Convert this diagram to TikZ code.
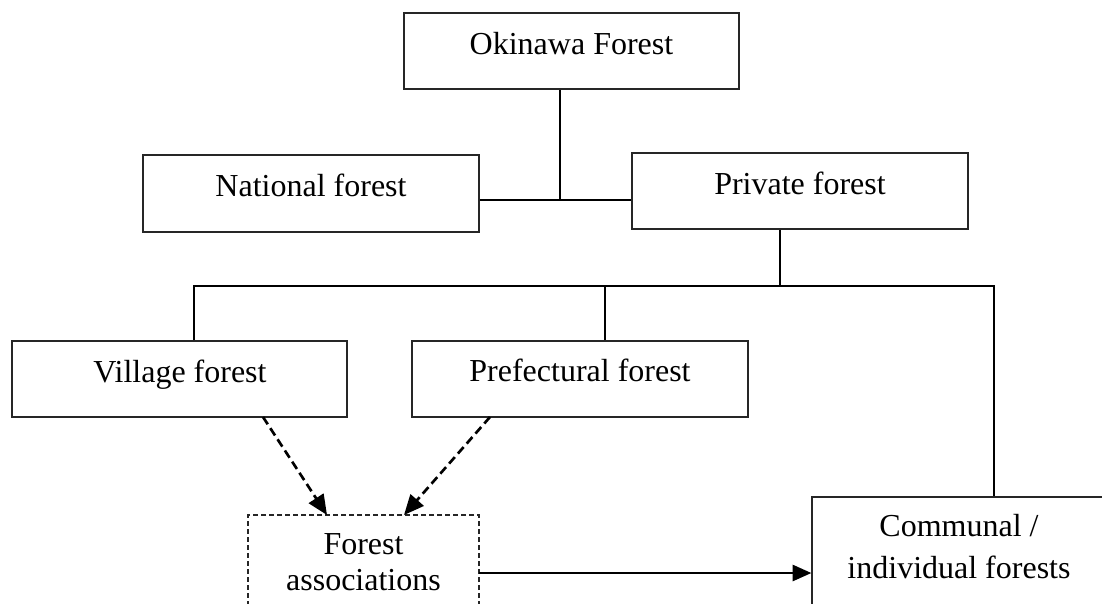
\documentclass[tikz,border=0pt]{standalone}
\usepackage{fontspec}
\setmainfont{Liberation Serif}
\usetikzlibrary{arrows.meta}
\begin{document}
\begin{tikzpicture}[x=0.75pt,y=-0.75pt,
  box/.style={draw=black!85,line width=0.9pt,rectangle,inner sep=0pt},
  dbox/.style={draw=black!85,line width=0.8pt,rectangle,inner sep=0pt,dash pattern=on 3.5pt off 2.5pt},
  txt/.style={font=\fontsize{24pt}{27pt}\selectfont,inner sep=0pt,anchor=base,align=center},
  conn/.style={draw=black,line width=1.2pt},
  darr/.style={draw=black,line width=2pt,dash pattern=on 6.5pt off 3.5pt,-{Triangle[length=15pt,width=13pt]}},
  sarr/.style={draw=black,line width=1.8pt,-{Triangle[length=14pt,width=12pt]}}]
\useasboundingbox (0,0) rectangle (1102,603);
\clip (0,0) rectangle (1102,603);
\fill[white] (0,0) rectangle (1102,603);

% boxes
\node[box,minimum width=335*0.75pt,minimum height=76*0.75pt] (ok) at (571.5,51) {};
\node[box,minimum width=336*0.75pt,minimum height=77*0.75pt] (nat) at (311,193.5) {};
\node[box,minimum width=336*0.75pt,minimum height=76*0.75pt] (pri) at (800,191) {};
\node[box,minimum width=335*0.75pt,minimum height=76*0.75pt] (vil) at (179.5,379) {};
\node[box,minimum width=336*0.75pt,minimum height=76*0.75pt] (pre) at (580,379) {};
\node[dbox,minimum width=231*0.75pt,minimum height=140*0.75pt] (fa) at (363.5,585) {};
\node[box,minimum width=296*0.75pt,minimum height=160*0.75pt] (com) at (960,577) {};

% texts
\node[txt] (okt) at (571.5,54) {Okinawa Forest};
\node[txt] (natt) at (311,196) {National forest};
\node[txt] (prit) at (800,194) {Private forest};
\node[txt] (vilt) at (180,382) {Village forest};
\node[txt] (pret) at (580,381) {Prefectural forest};
\node[txt] (fat) at (363.5,590) {Forest\\associations};
\node[txt] (comt) at (959,578) {Communal /\\[4pt]individual forests};

% connectors
\coordinate (j1) at (560,200);
\draw[conn] (ok.south -| j1) -- (j1);
\draw[conn] (j1 -| nat.east) -- (j1 -| pri.west);

\coordinate (j2) at (780,286);
\coordinate (bl) at (194,286);
\coordinate (bm) at (605,286);
\coordinate (br) at (994,286);
\draw[conn] (pri.south -| j2) -- (j2);
\draw[conn] (bl |- vil.north) -- (bl) -- (br) -- (br |- com.north);
\draw[conn] (bm) -- (bm |- pre.north);

% arrows
\coordinate (va) at (263,417);
\coordinate (vb) at (327,515);
\coordinate (pa) at (490,417);
\coordinate (pb) at (404,515);
\draw[darr] (va) -- (vb);
\draw[darr] (pa) -- (pb);
\coordinate (fr) at (479,573);
\draw[sarr] (fr) -- (fr -| com.west);
\end{tikzpicture}
\end{document}
